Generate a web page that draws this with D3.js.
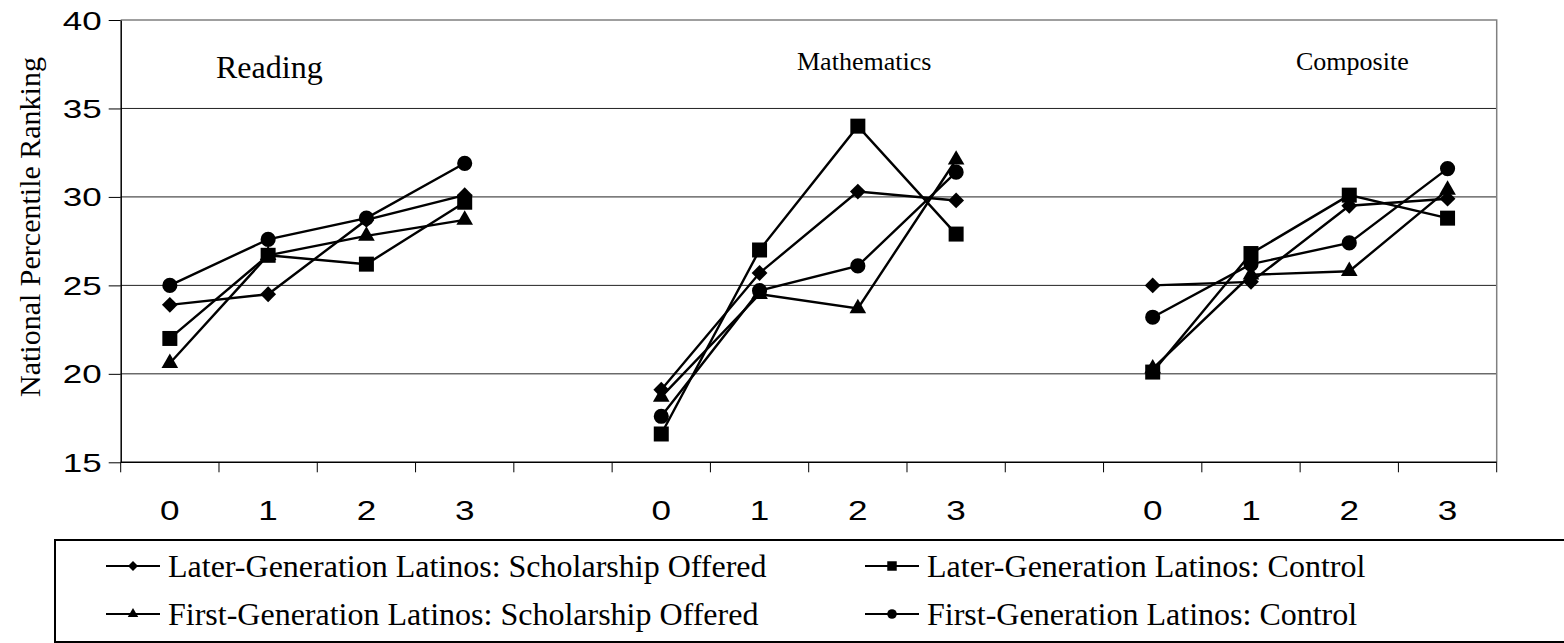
<!DOCTYPE html>
<html>
<head>
<meta charset="utf-8">
<script src="https://cdn.jsdelivr.net/npm/d3@7"></script>
<style>
  body { margin: 0; background: #fff; }
  svg { display: block; }
</style>
</head>
<body>
<div id="chart"></div>
<script>
        // Categories and tick labels
        const subjects = ['Reading', 'Mathematics', 'Composite'];
        const years = ['0', '1', '2', '3'];
        const yTicks = [15, 20, 25, 30, 35, 40];

        // Series values, 4 years per subject (Reading, Mathematics, Composite)
        const laterOffered = [23.9, 24.5, 28.7, 30.1, 19.1, 25.7, 30.3, 29.8, 25.0, 25.2, 29.5, 29.9];
        const laterControl = [22.0, 26.7, 26.2, 29.7, 16.6, 27.0, 34.0, 27.9, 20.1, 26.8, 30.1, 28.8];
        const firstOffered = [20.6, 26.7, 27.8, 28.7, 18.7, 24.5, 23.7, 32.1, 20.3, 25.6, 25.8, 30.4];
        const firstControl = [25.0, 27.6, 28.8, 31.9, 17.6, 24.7, 26.1, 31.4, 23.2, 26.2, 27.4, 31.6];

        const seriesNames = [
            'Later-Generation Latinos: Scholarship Offered',
            'Later-Generation Latinos: Control',
            'First-Generation Latinos: Scholarship Offered',
            'First-Generation Latinos: Control'
        ];

        const series = [
            { name: seriesNames[0], values: laterOffered, shape: 'diamond' },
            { name: seriesNames[1], values: laterControl, shape: 'square' },
            { name: seriesNames[2], values: firstOffered, shape: 'triangle' },
            { name: seriesNames[3], values: firstControl, shape: 'circle' }
        ];

        // slots along the x axis: 4 years per subject with a blank slot between subjects
        const slots = [];
        subjects.forEach((s, i) => {
            years.forEach(y => slots.push(s + '|' + y));
            if (i < subjects.length - 1) slots.push('gap' + i);
        });

        const W = 1564, H = 643;
        const plotL = 120.7, plotR = 1496.7, plotT = 20, plotB = 462.3;

        const svg = d3.select('#chart').append('svg')
            .attr('width', W).attr('height', H);

        const x = d3.scaleBand().domain(slots).range([plotL, plotR]);
        const y = d3.scaleLinear().domain([15, 40]).range([plotB, plotT]);
        const cx = key => x(key) + x.bandwidth() / 2;

        // gridlines
        svg.append('g').selectAll('line')
            .data(yTicks.filter(t => t > 15 && t < 40))
            .enter().append('line')
            .attr('x1', plotL).attr('x2', plotR)
            .attr('y1', d => y(d)).attr('y2', d => y(d))
            .attr('stroke', '#222').attr('stroke-width', 1);

        // plot border (top / right grey)
        svg.append('path')
            .attr('d', `M${plotL},${plotT}H${plotR}V${plotB}`)
            .attr('fill', 'none').attr('stroke', '#808080').attr('stroke-width', 1.5);

        // y axis
        const yAxis = svg.append('g')
            .attr('transform', `translate(${plotL},0)`)
            .call(d3.axisLeft(y).tickValues(yTicks).tickSize(12).tickSizeOuter(0).tickPadding(7));
        yAxis.select('.domain').attr('stroke', '#000').attr('stroke-width', 1.5);
        yAxis.selectAll('.tick line').attr('stroke', '#000').attr('stroke-width', 1);
        yAxis.selectAll('.tick text')
            .attr('font-family', '"Liberation Sans", Arial, sans-serif')
            .attr('font-size', 25).attr('fill', '#000')
            .attr('x', 0).attr('dy', null).attr('dominant-baseline', 'central')
            .attr('text-anchor', 'end')
            .attr('transform', 'translate(-19,0) scale(1.4,1)');

        // x axis: ticks at slot boundaries, labels at slot centres
        const xAxis = svg.append('g').attr('transform', `translate(0,${plotB})`);
        xAxis.append('line')
            .attr('x1', plotL).attr('x2', plotR)
            .attr('stroke', '#000').attr('stroke-width', 1.5);
        xAxis.selectAll('line.tk')
            .data(slots.concat(['end']))
            .enter().append('line')
            .attr('class', 'tk')
            .attr('x1', d => d === 'end' ? plotR : x(d))
            .attr('x2', d => d === 'end' ? plotR : x(d))
            .attr('y1', 0).attr('y2', 10)
            .attr('stroke', '#000').attr('stroke-width', 1);
        xAxis.selectAll('g.lbl')
            .data(slots.filter(s => s.indexOf('|') > 0))
            .enter().append('g')
            .attr('class', 'lbl')
            .attr('transform', d => `translate(${cx(d)},58) scale(1.3,1)`)
            .append('text')
            .attr('text-anchor', 'middle')
            .attr('font-family', '"Liberation Sans", Arial, sans-serif')
            .attr('font-size', 27)
            .text(d => d.split('|')[1]);

        // y axis title
        svg.append('text')
            .attr('transform', 'translate(40,227) rotate(-90)')
            .attr('text-anchor', 'middle')
            .attr('font-family', '"Liberation Serif", "Times New Roman", serif')
            .attr('font-size', 30)
            .text('National Percentile Ranking');

        // subject titles inside the plot
        const subjectLabels = [
            { text: subjects[0], x: 216, y: 78, size: 32 },
            { text: subjects[1], x: 797, y: 70, size: 26 },
            { text: subjects[2], x: 1296, y: 70, size: 26 }
        ];
        svg.selectAll('text.subj')
            .data(subjectLabels)
            .enter().append('text')
            .attr('class', 'subj')
            .attr('x', d => d.x).attr('y', d => d.y)
            .attr('font-family', '"Liberation Serif", "Times New Roman", serif')
            .attr('font-size', d => d.size)
            .text(d => d.text);

        // marker generators
        function marker(shape, scale) {
            const sizes = { diamond: 125, square: 225, triangle: 120, circle: 180 };
            const types = { diamond: d3.symbolSquare, square: d3.symbolSquare, triangle: d3.symbolTriangle, circle: d3.symbolCircle };
            return d3.symbol().type(types[shape]).size(sizes[shape] * scale)();
        }
        function markerTransform(shape, px, py) {
            return shape === 'diamond' ? `translate(${px},${py}) rotate(45)` : `translate(${px},${py})`;
        }

        const line = d3.line().x(d => d.x).y(d => d.y);

        series.forEach(s => {
            const g = svg.append('g');
            subjects.forEach((subj, si) => {
                const pts = years.map((yr, yi) => ({
                    x: cx(subj + '|' + yr),
                    y: y(s.values[si * 4 + yi])
                }));
                g.append('path')
                    .attr('d', line(pts))
                    .attr('fill', 'none').attr('stroke', '#000').attr('stroke-width', 2.4);
                g.selectAll(null)
                    .data(pts)
                    .enter().append('path')
                    .attr('d', marker(s.shape, 1))
                    .attr('transform', d => markerTransform(s.shape, d.x, d.y))
                    .attr('fill', '#000');
            });
        });

        // legend
        const legend = svg.append('g');
        legend.append('rect')
            .attr('x', 55).attr('y', 540).attr('width', 1530).attr('height', 102)
            .attr('fill', 'none').attr('stroke', '#000').attr('stroke-width', 2);

        const legendPos = [
            { col: 106, row: 566 },
            { col: 865, row: 566 },
            { col: 106, row: 614 },
            { col: 865, row: 614 }
        ];
        series.forEach((s, i) => {
            const p = legendPos[i];
            const g = legend.append('g').attr('transform', `translate(${p.col},${p.row})`);
            g.append('line').attr('x1', 0).attr('x2', 54)
                .attr('stroke', '#000').attr('stroke-width', 2);
            g.append('path')
                .attr('d', marker(s.shape, 0.4))
                .attr('transform', markerTransform(s.shape, 27, 0))
                .attr('fill', '#000');
            g.append('text')
                .attr('x', 62).attr('y', 11)
                .attr('font-family', '"Liberation Serif", "Times New Roman", serif')
                .attr('font-size', 32)
                .text(s.name);
        });
</script>
</body>
</html>
